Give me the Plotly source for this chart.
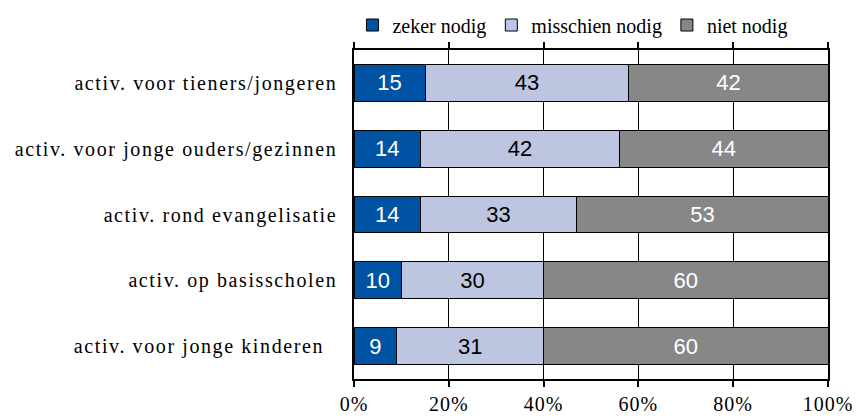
import plotly.graph_objects as go

categories = [
    "activ. voor tieners/jongeren",
    "activ. voor jonge ouders/gezinnen",
    "activ. rond evangelisatie",
    "activ. op basisscholen",
    "activ. voor jonge kinderen\u00a0\u00a0",
]
zeker = [15, 14, 14, 10, 9]
misschien = [43, 42, 33, 30, 31]
niet = [42, 44, 53, 60, 60]
series_names = ["zeker nodig", "misschien nodig", "niet nodig"]
tick_vals = [0, 20, 40, 60, 80, 100]
tick_text = ["0%", "20%", "40%", "60%", "80%", "100%"]

colors = ["#0052A3", "#BEC5E1", "#878787"]
text_colors = ["white", "black", "white"]

fig = go.Figure()
for name, vals, c, tc in zip(series_names, [zeker, misschien, niet], colors, text_colors):
    fig.add_trace(go.Bar(
        y=categories, x=vals, name=name, orientation="h",
        marker=dict(color=c, line=dict(color="black", width=1)),
        text=[str(v) for v in vals], textposition="inside",
        insidetextanchor="middle",
        textfont=dict(family="Liberation Sans, Arial", size=22, color=tc),
        width=0.56,
    ))

fig.update_layout(
    barmode="stack",
    width=857, height=417,
    margin=dict(l=354, r=29, t=50, b=38, autoexpand=False),
    paper_bgcolor="white", plot_bgcolor="white",
    font=dict(family="Liberation Serif, Times New Roman", size=20, color="black"),
    showlegend=True,
    legend=dict(orientation="h", xref="container", yref="container",
                x=0.668, xanchor="center", y=0.94, yanchor="middle",
                font=dict(family="Liberation Serif", size=20), traceorder="normal",
                itemwidth=30, tracegroupgap=0, bgcolor="rgba(0,0,0,0)"),
    uniformtext=dict(mode="show", minsize=10),
)
fig.update_xaxes(range=[0, 100], tickvals=tick_vals, ticktext=tick_text,
                 showgrid=True, gridcolor="black", gridwidth=1,
                 showline=True, linecolor="black", linewidth=1.5, mirror="all",
                 ticks="outside", ticklen=6, tickcolor="black", tickwidth=1.5,
                 zeroline=False, tickfont=dict(size=20), automargin=False)
fig.update_yaxes(autorange="reversed", showgrid=False,
                 showline=True, linecolor="black", linewidth=1.5, mirror="all",
                 ticks="", ticklabelstandoff=11, tickfont=dict(size=20), automargin=False)

post = """
var s = document.createElement('style');
s.textContent = 'html,body{margin:0;padding:0;overflow:hidden;} .ytick text{letter-spacing:1.6px;} .xtick text{letter-spacing:1px;}';
document.head.appendChild(s);
"""
fig.write_html("out.html", post_script=post, config={"displayModeBar": False})
